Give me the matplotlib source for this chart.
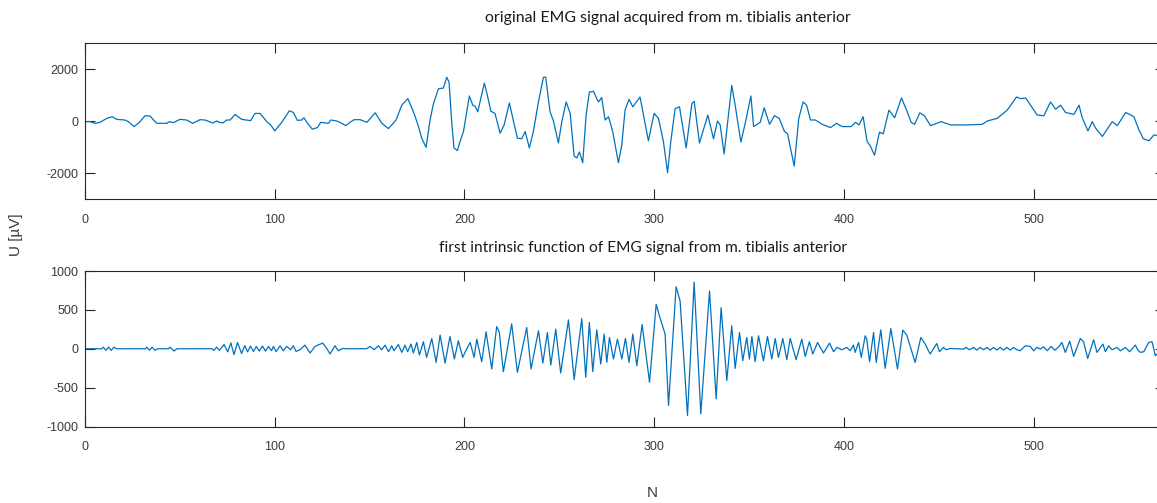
import matplotlib
matplotlib.use("Agg")
import matplotlib.pyplot as plt

# ---------------- data ----------------
top_n = [0, 2.8, 5.4, 8.1, 11.6, 14.6, 16.8, 21.2, 23.0, 26.0, 28.8, 31.8, 34.4, 37.9, 43.2,
         44.6, 46.7, 50.2, 53.7, 56.9, 60.7, 63.4, 67.4, 69.5, 70.9, 72.7, 74.8, 76.6, 79.2,
         82.7, 87.4, 89.7, 92.4, 95.9, 98.0, 100.1, 103.8, 107.8, 109.9, 112.0, 114.3, 115.5,
         117.0, 119.9, 122.6, 124.3, 128.4, 129.6, 132.8, 135.4, 137.5, 139.8, 141.9, 145.1,
         148.6, 153.0, 156.5, 160.0, 164.0, 167.0, 170.2, 173.5, 175.8, 177.5, 179.8,
         181.9, 183.7, 186.3, 188.9, 190.7, 191.9, 193.3, 194.5, 196.3, 197.7, 199.5, 201.2,
         202.6, 204.4, 205.6, 207.0, 210.5, 212.1, 213.9, 216.1, 218.8, 220.9, 223.7, 225.5,
         227.9, 230.2, 232.0, 234.2, 236.3, 239.0, 241.6, 242.8, 245.1, 246.9, 249.5, 251.3,
         253.6, 255.7, 257.8, 259.2, 260.6, 262.3, 264.1, 265.8, 268.0, 269.7, 270.6, 272.3,
         274.1, 275.9, 278.1, 281.1, 282.9, 284.6, 286.7, 288.7, 292.5, 294.3, 296.9, 299.9,
         302.2, 304.8, 307.0, 308.7, 311.0, 313.3, 316.8, 319.8, 321.0, 323.8, 328.2, 331.2,
         333.3, 334.7, 336.8, 340.8, 342.6, 345.6, 347.9, 350.9, 352.3, 355.8, 357.9, 360.7,
         363.3, 365.8, 368.6, 370.2, 371.9, 373.7,
         376.1, 378.4, 380.2, 382.3, 384.9, 388.4, 392.8, 396.0, 399.0, 403.7, 406.0, 407.8,
         410.0, 412.1, 413.9, 416.0, 418.6, 420.6, 423.6, 426.6, 430.2, 432.9, 435.3, 437.1,
         439.9, 442.4, 445.5, 451.1, 456.1, 464.8, 472.7, 475.4, 480.6, 485.9, 490.8, 492.9,
         495.6, 498.2, 501.7, 505.2, 508.7, 511.4, 514.0, 516.6, 521.0, 523.7, 525.4, 528.4,
         530.7, 532.5, 536.0, 541.2, 543.9, 548.3, 552.6, 555.3, 557.6, 560.6, 563.2, 565.0,
         569.0]
top_v = [-25, -25, -89, -51, 101, 165, 63, 38, -25, -215, -51, 203, 190, -89, -89,
         -25, -63, 63, 38, -89, 51, 38, -76, 0, -51, -76, 38, 38, 253,
         63, 13, 291, 291, -25, -152, -380, -51, 392, 329, 25, 38, 127,
         -51, -316, -253, -51, -89, 38, 0, -89, -177, -51, 51, 51,
         -51, 316, -89, -291, 38, 608, 861, 291, -215, -658, -1013,
         38, 671, 1241, 1266, 1684, 1494, -25, -1038, -1139, -785, -405, 354,
         962, 608, 570, 354, 1456, 987, 380, 291, -468, -152, 696, 101,
         -658, -684, -405, -1038, -405, 734, 1684, 1684, 354, 0, -848, -25,
         734, 291, -1355, -1418, -1190, -1608, 228, 1114, 1139, 861, 734, 899,
         38, 165, -405, -1608, -912, 418, 836, 544, 924, 228, -760, 291,
         101, -785, -1988, -785, 481, 544, -1038, 671, 760, -848, 228, -684,
         0, -152, -1266, 1367, 608, -810, -89, 962, -215, -51, 506, -127,
         203, 101, -405, -494, -1101, -1734,
         101, 734, 608, 38, 38, -127, -253, -89, -215, -215, -51, -152,
         165, -785, -975, -1317, -430, -494, 418, 127, 886, 418, -51, -127,
         316, 190, -177, -25, -152, -152, -127, 0, 101, 418, 924, 861,
         886, 608, 228, 203, 734, 456, 608, 329, 253, 608, 127, -380,
         -25, -278, -595, -25, -177, 329, 165, -342, -684, -760, -532, -557,
         -450]

imf_n = [0, 9, 9.8, 11.2, 12.6, 14.0, 15.4, 16.8, 32, 32.7, 34.1, 35.5, 37, 38.4, 44, 45, 47,
         48.5, 67, 68, 69.5, 71, 73.4, 75.3, 77.0, 78.6, 80.5, 82.6, 84.3, 85.8, 87.3, 88.9,
         90.4, 92.0, 93.6, 95.2, 96.8, 98.4, 99.4, 100.8, 102.9, 104.6, 106.4, 108.5, 109.9,
         111.3, 113.4, 116.0, 118.7, 121.3, 125.3, 127.5, 129.2, 131.8, 133.6, 135.9, 138.0,
         148.5, 150.3, 152.4, 154.7, 156.4, 158.2, 160.0, 161.7, 162.9, 165.2, 167.0, 168.7,
         170.1, 171.9, 173.1, 174.9, 176.3, 178.4, 180.1, 182.8, 185.1, 187.2, 189.8, 192.4,
         194.7, 196.8, 199.1, 200.3, 203.0, 205.1, 206.5, 209.1, 211.4, 214.4, 217.0, 218.4,
         220.5, 224.9, 227.9, 232.8, 235.1, 239.0, 241.3, 243.7, 245.5, 248.1, 250.7, 254.8,
         257.8, 261.8, 263.9, 265.8, 267.6, 269.7, 271.8, 273.6, 275.0, 276.4, 278.5, 280.6,
         282.9, 284.8, 286.7, 288.7, 290.8, 293.6, 297.5, 301.0, 302.7, 305.7, 307.5, 311.5,
         313.6, 317.5, 321.0, 324.5, 329.1, 332.6, 335.2, 338.2, 340.8, 342.6, 344.9, 346.6,
         348.7, 350.1, 351.4, 353.1, 354.9, 357.5, 359.6, 361.9, 363.7, 365.4, 367.7, 369.8,
         371.6, 374.7, 377.7, 379.5, 381.7, 383.5, 386.0, 389.1, 392.3, 394.4, 396.2, 398.8,
         401.4, 403.2, 404.9, 405.8, 407.6, 409.0, 411.1, 411.9, 413.4, 415.5, 416.9, 419.3,
         421.6, 424.6, 428.1, 430.9, 433.0, 437.4, 440.4, 442.7, 445.3, 448.8, 450.2, 452.3,
         453.7, 455.9, 462.9, 464.3, 466.0, 468.2, 469.9, 471.7, 473.4, 475.2, 476.9, 478.7,
         480.4, 482.2, 483.9, 485.7, 487.5, 489.2, 491.0, 492.7, 495.4, 498.0, 499.8, 501.5,
         503.3, 505, 507, 509, 511, 513, 514.7, 516.5, 518.8, 520.9, 524.4, 526.1, 528.3,
         531.4, 533.2, 536.3, 537.6, 539.3, 541.1, 543.7, 545.5, 548.1, 550.4, 553.4, 554.6,
         556.0, 557.8, 560.4, 562.2, 563.9, 566.0, 569.0]
imf_v = [0, 0, 20, -20, 20, -20, 20, 0, 0, 20, -20, 20, -20, 0, 0, 20, -30,
         0, 0, -20, 20, -20, 55, -40, 75, -75, 80, -60, 40, -40, 35, -35,
         30, -30, 35, -30, 30, -25, 30, -38, 38, -26, 30, -13, 38,
         -34, -13, 47, -55, 30, 73, 4, -68, 38, -26, 4, 0,
         0, 30, -13, 38, -13, 47, -38, 38, -26, 55, -47, 47,
         -38, 60, -55, 81, -81, 90, -111, 132, -175, 175, -184, 158,
         -132, 102, -111, -47, 81, -111, 124, -167, 218, -260, 286, 209,
         -295, 320, -303, 273, -260, 231, -184, 209, -209, 252, -312, 371,
         -397, 389, -367, 337, -295, 243, -196, 188, -175, 145, -132, 124,
         -132, 132, -175, 188, -218, 312, -431, 572, 423, 188, -730, 798,
         615, -858, 858, -837, 743, -645, 529, -410, 295, -252, 209, -154,
         145, -132, 158, -167, 167, -154, 158, -132, 132, -111, 132, -141,
         132, -141, 124, -98, 90, -68, 81, -55, 73, -38, 17, -13,
         17, -26, 47, -47, 81, -111, 167, 124, -167, 209, -175, 243,
         -252, 260, -260, 239, 175, -175, 145, 60, -68, 68, -38, 17,
         -13, 4, -4, 17, -13, 17, -17, 17, -13, 17, -17, 17,
         -17, 17, -17, 17, -17, 17, -13, -26, 38, 30, -26, 17,
         -4, 25, -25, 30, -20, 25, 81, -47, 98, -98, 132, 90, -124,
         115, -47, 60, -38, 38, -13, 17, -26, 17, -38, 47, -13,
         -47, -38, 81, 90, -90, -40, 20]

top_title = "original EMG signal acquired from m. tibialis anterior"
bot_title = "first intrinsic function of EMG signal from m. tibialis anterior"
y_label = "U [\u00b5V]"
x_label = "N"
xticks = [0, 100, 200, 300, 400, 500]
top_yticks = [-2000, 0, 2000]
bot_yticks = [-1000, -500, 0, 500, 1000]

# ---------------- figure ----------------
plt.rcParams['font.family'] = ['Liberation Sans', 'DejaVu Sans']
plt.rcParams['axes.unicode_minus'] = False

W, H = 1157, 503
fig = plt.figure(figsize=(W / 100, H / 100), dpi=100)

line_color = '#0072BD'
axis_color = '#262626'
label_color = '#3a3a3a'


def box(l, r, t, b):
    return [l / W, (H - b) / H, (r - l) / W, (b - t) / H]


def style(ax, ylim, yticks):
    ax.set_xlim(0, 569)
    ax.set_ylim(*ylim)
    ax.set_xticks(xticks)
    ax.set_yticks(yticks)
    ax.tick_params(direction='in', length=7.5, width=0.8, colors=axis_color,
                   labelcolor=label_color, labelsize=9, top=True, right=True)
    ax.tick_params(axis='x', pad=10.5)
    ax.tick_params(axis='y', pad=4.5)
    for s in ax.spines.values():
        s.set_color(axis_color)
        s.set_linewidth(0.8)


ax1 = fig.add_axes(box(84.7, 1165, 43, 199))
ax1.plot(top_n, top_v, color=line_color, lw=0.9)
style(ax1, (-3000, 3000), top_yticks)

ax2 = fig.add_axes(box(84.7, 1165, 271, 426.5))
ax2.plot(imf_n, imf_v, color=line_color, lw=0.9)
style(ax2, (-1000, 1000), bot_yticks)

fig.text(668 / W, 1 - 18 / H, top_title, ha='center', va='center',
         fontsize=11.4, family=['Lato', 'DejaVu Sans'], color='#1a1a1a')
fig.text(643 / W, 1 - 248 / H, bot_title, ha='center', va='center',
         fontsize=11.2, family=['Lato', 'DejaVu Sans'], color='#1a1a1a')
fig.text(16 / W, 1 - 235 / H, y_label, ha='center', va='center', rotation=90,
         fontsize=11, color=label_color)
fig.text(652 / W, 1 - 493 / H, x_label, ha='center', va='center',
         fontsize=11, color=label_color)

fig.savefig('out.png', dpi=100, facecolor='white')
